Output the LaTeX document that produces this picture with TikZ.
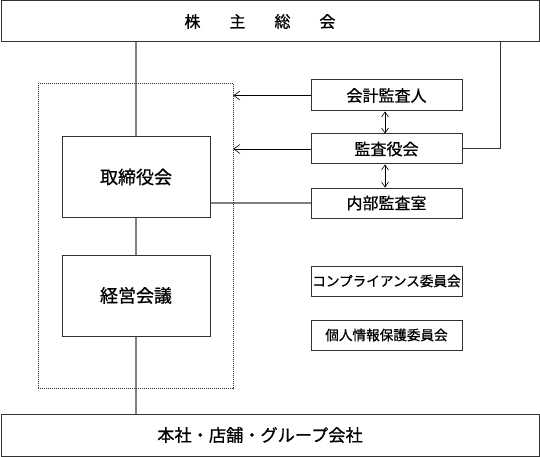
\documentclass[tikz,border=0pt]{standalone}
\usepackage{fontspec}
\setmainfont{Noto Sans CJK JP}[FakeBold=0.8]
\usetikzlibrary{arrows.meta}
\definecolor{boxline}{HTML}{333333}
\definecolor{conn}{HTML}{808080}
\tikzset{
  box/.style={draw=boxline, line width=1pt, rectangle, inner sep=0pt, anchor=center},
  bigbox/.style={box, minimum width=148pt, minimum height=81pt, font=\fontsize{18}{18}\selectfont},
  smallbox/.style={box, minimum width=151pt, minimum height=30pt, font=\fontsize{16}{16}\selectfont},
  combox/.style={box, minimum width=151pt, minimum height=30pt, font=\fontsize{13.6}{14}\selectfont},
  widebox/.style={box, minimum width=538pt, minimum height=41pt},
  greyline/.style={draw=conn, line width=1.2pt},
  darkline/.style={draw=boxline, line width=1pt},
  arrowline/.style={draw=black, line width=0.6pt, -{Straight Barb[length=6pt,width=9pt]}},
  dblarrow/.style={draw=black, line width=0.6pt, {Straight Barb[length=5pt,width=7pt]}-{Straight Barb[length=5pt,width=7pt]}},
  groupbox/.style={draw=boxline, line width=0.8pt, dash pattern=on 1pt off 1pt, rectangle, inner sep=0pt, anchor=center},
  txt/.style={inner sep=0pt, anchor=center}
}
\begin{document}
\begin{tikzpicture}[x=1pt, y=-1pt]
\useasboundingbox (0,0) rectangle (540,457);
% group (dotted)
\node[groupbox, minimum width=195pt, minimum height=305pt] (grp) at (135.5,236) {};
% top and bottom
\node[widebox] (top) at (270,21.5) {};
\node[txt, font=\fontsize{16}{16}\selectfont] (toptxt) at (260,21.5) {株\hspace{29pt}主\hspace{29pt}総\hspace{29pt}会};
\node[widebox, minimum height=42pt] (bot) at (270,435) {};
\node[txt, font=\fontsize{17.2}{18}\selectfont] (bottxt) at (260,435) {本社・店舗・グループ会社};
% board boxes
\node[bigbox] (tori) at (136,177) {取締役会};
\node[bigbox] (keiei) at (136,295.5) {経営会議};
% audit boxes
\node[smallbox, minimum height=31pt] (kaikei) at (386.5,95.5) {会計監査人};
\node[smallbox] (kansa) at (386.5,149) {監査役会};
\node[smallbox] (naibu) at (386.5,203) {内部監査室};
% committees
\node[combox] (comp) at (386.5,281) {コンプライアンス委員会};
\node[combox] (kojin) at (386.5,335) {個人情報保護委員会};
% connectors
\coordinate (rt) at (500,42);
\draw[greyline] (top.south -| tori.north) -- (tori.north);
\draw[greyline] (tori.south) -- (keiei.north);
\draw[greyline] (keiei.south) -- (bot.north -| keiei.south);
\draw[greyline] (tori.east |- naibu.west) -- (naibu.west);
\draw[darkline] (rt) |- (kansa.east);
\draw[arrowline] (kaikei.west) -- (kaikei.west -| grp.east);
\draw[arrowline] (kansa.west) -- (kansa.west -| grp.east);
\draw[dblarrow] ([xshift=-1.5pt]kaikei.south) -- ([xshift=-1.5pt]kansa.north);
\draw[dblarrow] ([xshift=-1.5pt]kansa.south) -- ([xshift=-1.5pt]naibu.north);
% redraw dotted border on top of lines
\node[groupbox, minimum width=195pt, minimum height=305pt] (grp2) at (135.5,236) {};
\end{tikzpicture}
\end{document}
